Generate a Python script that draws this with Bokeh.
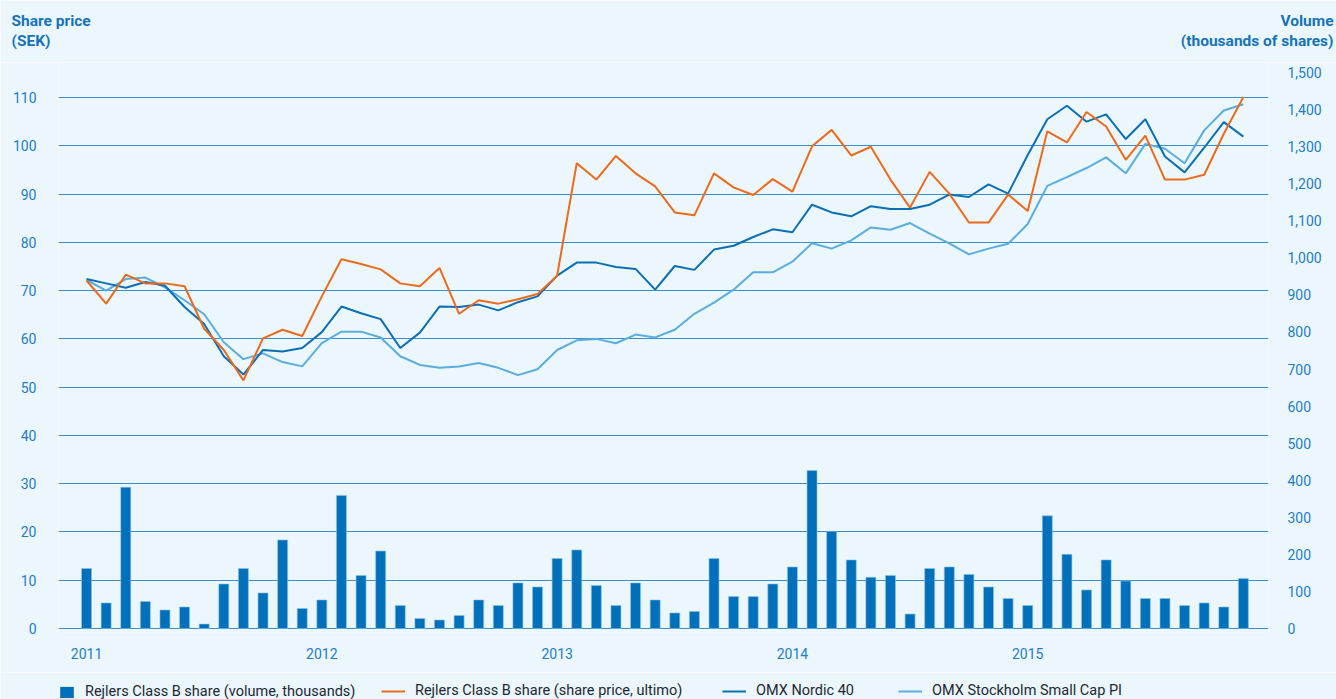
from bokeh.plotting import figure
from bokeh.layouts import column
from bokeh.models import (Range1d, LinearAxis, FixedTicker, NumeralTickFormatter,
                          Legend, LegendItem, ColumnDataSource)
from bokeh.core.properties import value
from bokeh.embed import file_html
from bokeh.resources import INLINE

# ---------------- data ----------------
year_labels = ["2011", "2012", "2013", "2014", "2015"]
year_ticks = [0, 12, 24, 36, 48]          # month index of each January
month_idx = list(range(60))               # Jan 2011 .. Dec 2015

volume = [162, 69, 381, 73, 50, 58, 12, 120, 162, 96, 239, 54,
          77, 359, 143, 209, 62, 27, 23, 35, 77, 62, 123, 112,
          189, 212, 116, 62, 123, 77, 42, 46, 189, 86, 86, 120,
          166, 426, 262, 185, 138, 143, 39, 162, 166, 146, 112, 81,
          62, 304, 200, 104, 185, 128, 81, 81, 62, 69, 58, 135]

rejlers = [72.1, 67.3, 73.3, 71.5, 71.5, 70.9, 62.1, 57.7, 51.4, 60.1, 61.9, 60.6,
           68.8, 76.5, 75.5, 74.4, 71.5, 70.9, 74.7, 65.2, 68.0, 67.3, 68.2, 69.3,
           73.1, 96.4, 93.0, 97.9, 94.3, 91.6, 86.2, 85.6, 94.3, 91.4, 89.8, 93.1,
           90.5, 99.9, 103.3, 98.0, 99.8, 93.0, 87.2, 94.6, 90.1, 84.1, 84.1, 89.9,
           86.5, 103.0, 100.7, 107.0, 104.0, 97.1, 102.1, 93.0, 93.0, 94.0, 102.5, 110.1]

omx40 = [72.4, 71.5, 70.6, 71.8, 71.0, 66.6, 63.1, 56.4, 52.6, 57.7, 57.4, 58.1,
         61.4, 66.7, 65.3, 64.1, 58.1, 61.3, 66.7, 66.6, 67.1, 65.9, 67.6, 68.8,
         73.1, 75.8, 75.8, 74.9, 74.5, 70.2, 75.1, 74.3, 78.5, 79.3, 81.1, 82.7,
         82.1, 87.8, 86.2, 85.4, 87.5, 86.9, 86.9, 87.8, 89.9, 89.4, 92.0, 90.1,
         98.1, 105.5, 108.3, 105.0, 106.5, 101.4, 105.5, 97.8, 94.5, 99.6, 104.9, 101.9]

smallcap = [72.2, 70.0, 72.4, 72.7, 70.7, 68.0, 65.1, 59.3, 55.8, 57.0, 55.2, 54.3,
            59.1, 61.5, 61.5, 60.3, 56.4, 54.6, 54.0, 54.3, 55.0, 54.0, 52.5, 53.7,
            57.7, 59.7, 60.0, 59.1, 60.9, 60.3, 61.9, 65.2, 67.5, 70.2, 73.8, 73.8,
            76.0, 79.8, 78.7, 80.4, 83.1, 82.6, 84.0, 81.8, 79.8, 77.5, 78.7, 79.7,
            83.8, 91.7, 93.5, 95.4, 97.6, 94.3, 100.4, 99.4, 96.4, 103.2, 107.3, 108.6]

price_ticks = list(range(0, 120, 10))
volume_ticks = list(range(0, 1600, 100))

series_names = ["Rejlers Class B share (volume, thousands)",
                "Rejlers Class B share (share price, ultimo)",
                "OMX Nordic 40",
                "OMX Stockholm Small Cap PI"]
left_title = ["Share price", "(SEK)"]
right_title = ["Volume", "(thousands of shares)"]

# ---------------- styling ----------------
BG = "#EBF7FD"
AXIS_BLUE = "#1F7DC3"
TITLE_BLUE = "#1673B9"
BAR_BLUE = "#0070BA"
ORANGE = "#EC6A1C"
DARK_BLUE = "#0A6FB5"
LIGHT_BLUE = "#5AADE1"
GRID = "#3B8ECB"
LEGEND_TEXT = "#1E2832"
FONT = "Roboto"
W = 1336
HEADER_H = 62
FOOTER_H = 27
MAIN_H = 699 - HEADER_H - FOOTER_H


def strip(fig, h):
    """Full-bleed strip figure (no axes, frame = whole figure, not frame-aligned)."""
    fig.axis.visible = False
    fig.grid.visible = False
    fig.frame_width = W
    fig.frame_height = h
    try:
        fig.frame_align = False
    except Exception:
        pass
    return fig


# ---------------- header with the two axis titles ----------------
header = strip(figure(width=W, height=HEADER_H, output_backend="svg", toolbar_location=None,
                      x_range=Range1d(0, W), y_range=Range1d(0, HEADER_H),
                      min_border=0, background_fill_color=BG, border_fill_color=BG,
                      outline_line_color=None), HEADER_H)
header.text(x=[11, 11], y=[41.5, 21.5], text=left_title,
            text_font=value(FONT), text_font_size="15.5px", text_font_style="bold",
            text_color=TITLE_BLUE, text_align="left", text_baseline="middle")
header.text(x=[1333, 1333], y=[41.5, 21.5], text=right_title,
            text_font=value(FONT), text_font_size="15.5px", text_font_style="bold",
            text_color=TITLE_BLUE, text_align="right", text_baseline="middle")

# ---------------- main chart ----------------
src = ColumnDataSource(dict(x=month_idx, volume=volume, rejlers=rejlers,
                            omx40=omx40, smallcap=smallcap))

p = figure(width=W, height=MAIN_H, output_backend="svg", toolbar_location=None,
           x_range=Range1d(-1.43, 60.28), y_range=Range1d(-0.83, 117.26),
           min_border_left=58, min_border_right=68, min_border_top=0, min_border_bottom=40,
           background_fill_color=BG, border_fill_color=BG, outline_line_color=None)
try:
    p.frame_align = False
except Exception:
    pass
p.extra_y_ranges = {"vol": Range1d(-10.79, 1526.8)}

p.xaxis.ticker = FixedTicker(ticks=year_ticks)
p.xaxis.major_label_overrides = {t: l for t, l in zip(year_ticks, year_labels)}
p.yaxis.ticker = FixedTicker(ticks=price_ticks)

right = LinearAxis(y_range_name="vol", ticker=FixedTicker(ticks=volume_ticks),
                   formatter=NumeralTickFormatter(format="0,0"))
p.add_layout(right, "right")

for ax in [p.xaxis[0], p.yaxis[0], right]:
    ax.axis_line_color = None
    ax.major_tick_line_color = None
    ax.minor_tick_line_color = None
    ax.major_tick_out = 0
    ax.major_tick_in = 0
    ax.major_label_text_color = AXIS_BLUE
    ax.major_label_text_font = FONT
    ax.major_label_text_font_size = "14px"
p.xaxis.major_label_standoff = 15
p.yaxis[0].major_label_standoff = 22
right.major_label_standoff = 19

p.xgrid.grid_line_color = None
p.ygrid.grid_line_color = GRID
p.ygrid.grid_line_width = 1

p.vbar(x="x", top="volume", width=0.51, bottom=0, source=src,
       y_range_name="vol", fill_color=BAR_BLUE, line_color="#8CC4E8", line_width=0.6)
p.line("x", "smallcap", source=src, line_color=LIGHT_BLUE, line_width=2)
p.line("x", "omx40", source=src, line_color=DARK_BLUE, line_width=2)
p.line("x", "rejlers", source=src, line_color=ORANGE, line_width=2)

# ---------------- footer with the legend ----------------
footer = strip(figure(width=W, height=FOOTER_H, output_backend="svg", toolbar_location=None,
                      x_range=Range1d(0, W), y_range=Range1d(0, FOOTER_H),
                      min_border=0, background_fill_color=BG, border_fill_color=BG,
                      outline_line_color=None), FOOTER_H)
# legend keys only (no data points of their own)
nan = float("nan")
key_src = ColumnDataSource(dict(x=[nan], y=[nan]))
k_bar = footer.vbar(x="x", top="y", width=1, source=key_src, fill_color=BAR_BLUE, line_color=None)
k_rej = footer.line("x", "y", source=key_src, line_color=ORANGE, line_width=2)
k_omx = footer.line("x", "y", source=key_src, line_color=DARK_BLUE, line_width=2)
k_small = footer.line("x", "y", source=key_src, line_color=LIGHT_BLUE, line_width=2)

for name, r, xpos, ypos, gw in [(series_names[0], k_bar, 58, -1, 17),
                                (series_names[1], k_rej, 381, 0, 24),
                                (series_names[2], k_omx, 722, 0, 24),
                                (series_names[3], k_small, 898, 0, 24)]:
    footer.add_layout(Legend(items=[LegendItem(label=name, renderers=[r])],
                             location=(xpos, ypos), orientation="horizontal",
                             glyph_width=gw, glyph_height=14, label_height=14,
                             label_standoff=10, padding=0, margin=0, spacing=0,
                             border_line_color=None, background_fill_alpha=0,
                             label_text_font=FONT, label_text_font_size="14.5px",
                             label_text_color=LEGEND_TEXT), "center")

open("out.html", "w").write(file_html(column(header, p, footer, spacing=0), INLINE))
